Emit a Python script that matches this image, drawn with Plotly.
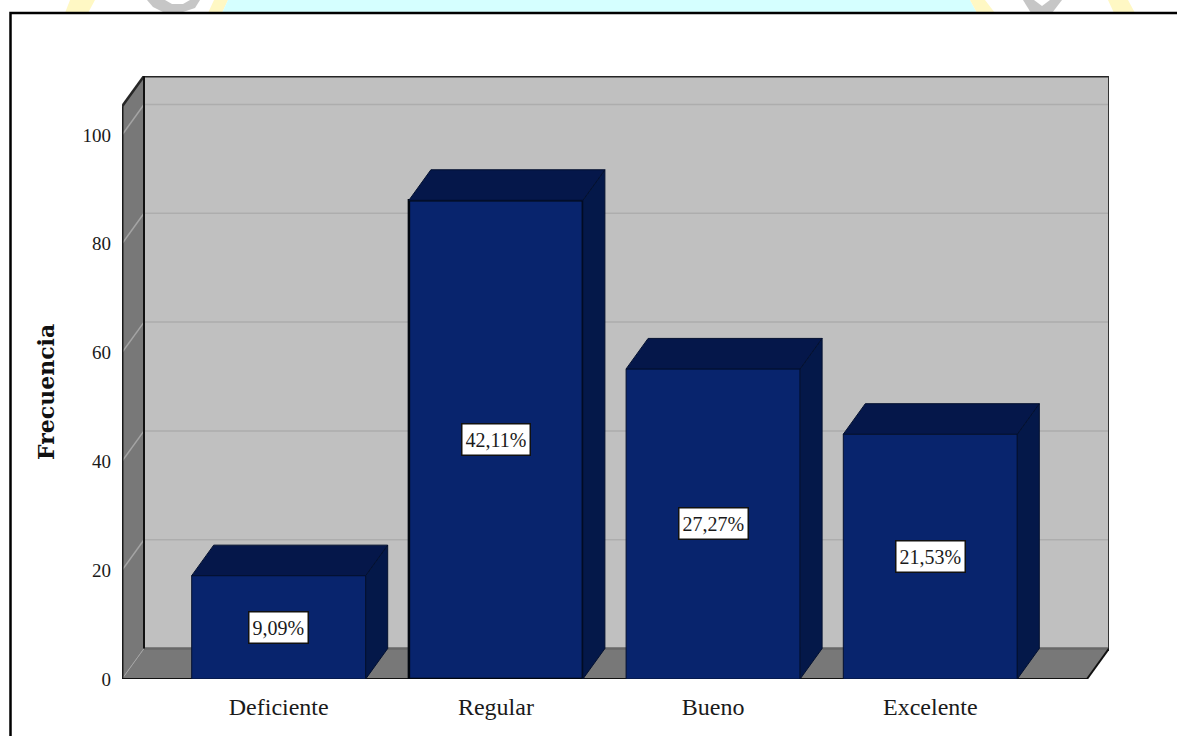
import plotly.graph_objects as go

categories = ["Deficiente", "Regular", "Bueno", "Excelente"]
frequencies = [19, 88, 57, 45]
percent_labels = ["9,09%", "42,11%", "27,27%", "21,53%"]
y_ticks = [0, 20, 40, 60, 80, 100]

W, H = 1177, 736
L, R, T, B = 122, 1109, 76, 679      # plot box in pixels
X0, XSTEP = 278.7, 217.2             # category 0 centre, category spacing
YPX = 5.44                           # pixels per frequency unit
DX, DY = 22 / XSTEP, 30.5 / YPX      # 3-D depth in data units
BAR_W = 174 / XSTEP

xmin, xmax = (L - X0) / XSTEP, (R - X0) / XSTEP
ymax = (B - T) / YPX
xfront = xmax - DX
yfront = ymax - DY

FRONT, TOP, SIDE = "#08246d", "#05174a", "#041849"
WALL, DARKWALL, GRID, GRID2 = "#c0c0c0", "#787878", "#adadad", "#a4a4a4"
YELLOW, CYAN, MARK = "#fff8c4", "#d5ffff", "#c6c6c6"


def px(x, y):
    return (x - L) / (R - L), (B - y) / (B - T)


def poly(pts):
    return "M " + " L ".join(f"{a} {b}" for a, b in pts) + " Z"


shapes = []


def ppoly(pts, fill, layer="below"):
    shapes.append(dict(type="path", xref="paper", yref="paper", layer=layer,
                       path=poly([px(*p) for p in pts]), fillcolor=fill, line_width=0))


# page decoration behind the chart frame
ppoly([(70, 0), (95, 0), (88, 13), (65, 13)], YELLOW)
ppoly([(147, 0), (200, 0), (195, 8), (180, 13), (165, 13), (153, 7)], MARK)
ppoly([(165, 0), (190, 0), (183, 4), (172, 4)], "white")
ppoly([(214, 0), (228, 0), (222, 13), (208, 13)], YELLOW)
ppoly([(228, 0), (970, 0), (977, 13), (222, 13)], CYAN)
ppoly([(970, 0), (985, 0), (995, 13), (977, 13)], YELLOW)
ppoly([(1023, 0), (1062, 0), (1052, 13), (1031, 13)], MARK)
ppoly([(1034, 0), (1050, 0), (1042, 6)], "white")
ppoly([(1108, 0), (1128, 0), (1135, 13), (1114, 13)], YELLOW)
a = px(10.5, 13)
b = px(1190, 745)
shapes.append(dict(type="rect", xref="paper", yref="paper", layer="below",
                   x0=a[0], y0=a[1], x1=b[0], y1=b[1], fillcolor="white",
                   line=dict(color="black", width=2.5)))


def dpoly(pts, fill, color=None, width=0):
    shapes.append(dict(type="path", xref="x", yref="y", layer="below", path=poly(pts),
                       fillcolor=fill, line=dict(color=color or fill, width=width)))


def dline(p, q, color, width):
    shapes.append(dict(type="line", xref="x", yref="y", layer="below", x0=p[0], y0=p[1],
                       x1=q[0], y1=q[1], line=dict(color=color, width=width)))


xb = xmin + DX
# walls and floor
dpoly([(xb, DY), (xmax, DY), (xmax, ymax), (xb, ymax)], WALL)
dpoly([(xmin, 0), (xb, DY), (xb, ymax), (xmin, yfront)], DARKWALL)
dpoly([(xmin, 0), (xfront, 0), (xmax, DY), (xb, DY)], DARKWALL)
# gridlines
for t in y_ticks[1:]:
    dline((xb, t + DY), (xmax, t + DY), GRID, 1.5)
    dline((xmin, t), (xb, t + DY), GRID2, 1.5)
dline((xmin, 0), (xb, DY), GRID2, 1)
dline((xb, DY), (xmax, DY), "#686868", 2.5)
# outlines
dline((xb, ymax), (xmax, ymax), "#262626", 3)
dline((xmin, yfront), (xb, ymax), "#262626", 2.5)
dline((xmin, 0), (xmin, yfront), "#1a1a1a", 3)
dline((xb, DY), (xb, ymax), "#111111", 2)
dline((xmax, DY), (xmax, ymax), "#333333", 2)
dline((xmin, -0.25), (xfront, -0.25), "#a0a0a0", 2)
dline((xmin, 0), (xfront, 0), "#111111", 2)
dline((xfront, 0), (xmax, DY), "#111111", 2)

fig = go.Figure()
fig.add_trace(go.Bar(
    x=list(range(len(categories))), y=frequencies, width=BAR_W, cliponaxis=False,
    marker=dict(color=FRONT, line=dict(color=["#04102f", "#01060f", "#04102f", "#04102f"],
                                       width=[1, 2.5, 1, 1])),
    hoverinfo="skip", showlegend=False,
))

for i, v in enumerate(frequencies):
    x0, x1 = i - BAR_W / 2, i + BAR_W / 2
    fig.add_trace(go.Scatter(
        x=[x1, x1 + DX, x1 + DX, x1, x1], y=[0, DY, v + DY, v, 0], mode="lines", fill="toself",
        fillcolor=SIDE, line=dict(color="#03102f", width=1), cliponaxis=False,
        hoverinfo="skip", showlegend=False))
    fig.add_trace(go.Scatter(
        x=[x0, x0 + DX, x1 + DX, x1, x0], y=[v, v + DY, v + DY, v, v], mode="lines", fill="toself",
        fillcolor=TOP, line=dict(color="#03102f", width=1), cliponaxis=False,
        hoverinfo="skip", showlegend=False))

annotations = [
    dict(x=i, y=v / 2, xref="x", yref="y", text=percent_labels[i], showarrow=False,
         font=dict(family="Liberation Serif", size=20, color="#1a1a1a"), bgcolor="white",
         bordercolor="#111111", borderwidth=1.5, borderpad=3, height=24,
         xanchor="center", yanchor="middle")
    for i, v in enumerate(frequencies)
]
tx, ty = px(46, 392)
annotations.append(dict(x=tx, y=ty, xref="paper", yref="paper", text="<b>Frecuencia</b>",
                        textangle=-90, showarrow=False, xanchor="center", yanchor="middle",
                        font=dict(family="DejaVu Serif", size=22, color="#111111")))

fig.update_layout(
    width=W, height=H, autosize=False,
    margin=dict(l=L, r=W - R, t=T, b=H - B, pad=0),
    paper_bgcolor="white", plot_bgcolor="rgba(0,0,0,0)",
    shapes=shapes, annotations=annotations, showlegend=False,
    xaxis=dict(range=[xmin, xmax], tickvals=list(range(len(categories))), ticktext=categories,
               showgrid=False, zeroline=False, showline=False, ticks="", ticklabelstandoff=11,
               tickfont=dict(family="Liberation Serif", size=24, color="#1a1a1a")),
    yaxis=dict(range=[0, ymax], tickvals=y_ticks, showgrid=False, zeroline=False, showline=False,
               ticks="", ticklabelstandoff=10,
               tickfont=dict(family="Liberation Serif", size=19, color="#1a1a1a")),
)
fig.write_html("out.html", config={"displayModeBar": False},
               post_script="document.body.style.margin='0';document.body.style.overflow='hidden';")
